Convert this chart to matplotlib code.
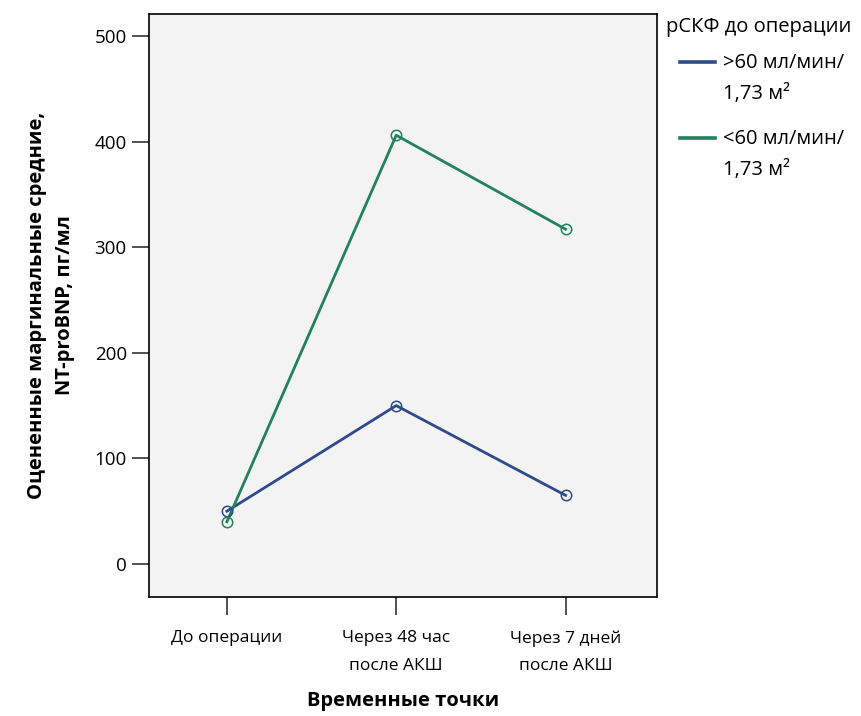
import matplotlib
matplotlib.use("Agg")
import matplotlib.pyplot as plt
from matplotlib.lines import Line2D

categories = ["До операции", "Через 48 час\nпосле АКШ", "Через 7 дней\nпосле АКШ"]
series_names = [">60 мл/мин/\n1,73 м²", "<60 мл/мин/\n1,73 м²"]
legend_title = "рСКФ до операции"
above60 = [50, 150, 65]
below60 = [40, 406, 317]
yticks = [0, 100, 200, 300, 400, 500]

colors = ["#2d4a8a", "#23815c"]

plt.rcParams['font.family'] = ['Open Sans', 'DejaVu Sans']

W, H = 861, 716
fig = plt.figure(figsize=(W/100, H/100), dpi=100)
ax = fig.add_axes([149/W, 1-597/H, 508/W, 583/H])
ax.set_facecolor("#f3f3f3")

x = list(range(len(categories)))
for vals, c in zip([above60, below60], colors):
    ax.plot(x, vals, color=c, lw=2.0, zorder=2)
    ax.plot(x, vals, ls="none", marker="o", ms=7.5, mfc="none", mec=c, mew=1.1, zorder=3)

ax.set_xlim(-0.46, 2.54)
ax.set_ylim(-31.25, 520.8)
ax.set_xticks(x)
ax.set_xticklabels(categories, fontsize=12.5, linespacing=1.95)
ax.set_yticks(yticks)
ax.set_yticklabels([str(t) for t in yticks], fontsize=13.5)
ax.tick_params(axis="y", direction="out", length=12, width=1.2, pad=4, color="#333333")
ax.tick_params(axis="x", direction="out", length=13, width=1.2, pad=11, color="#333333")
for s in ax.spines.values():
    s.set_linewidth(1.2)

ax.set_xlabel("Временные точки", fontsize=14.5, fontweight="bold", labelpad=12)
ax.set_ylabel("Оцененные маргинальные средние,\nNT-proBNP, пг/мл", fontsize=14.5,
              fontweight="bold", labelpad=14, linespacing=1.55)

# legend drawn manually in figure pixel coordinates
def fx(px):
    return px / W
def fy(py):
    return 1 - py / H

fig.text(fx(666), fy(27), legend_title, fontsize=14.5, ha="left", va="center")
for i, (name, c) in enumerate(zip(series_names, colors)):
    y0 = 62 + i * 76
    fig.add_artist(Line2D([fx(680), fx(715)], [fy(y0), fy(y0)], color=c, lw=2.6,
                          transform=fig.transFigure))
    l1, l2 = name.split("\n")
    fig.text(fx(723), fy(y0 + 1), l1, fontsize=14.5, ha="left", va="center")
    fig.text(fx(723), fy(y0 + 32), l2, fontsize=14.5, ha="left", va="center")

fig.savefig("out.png", dpi=100)
